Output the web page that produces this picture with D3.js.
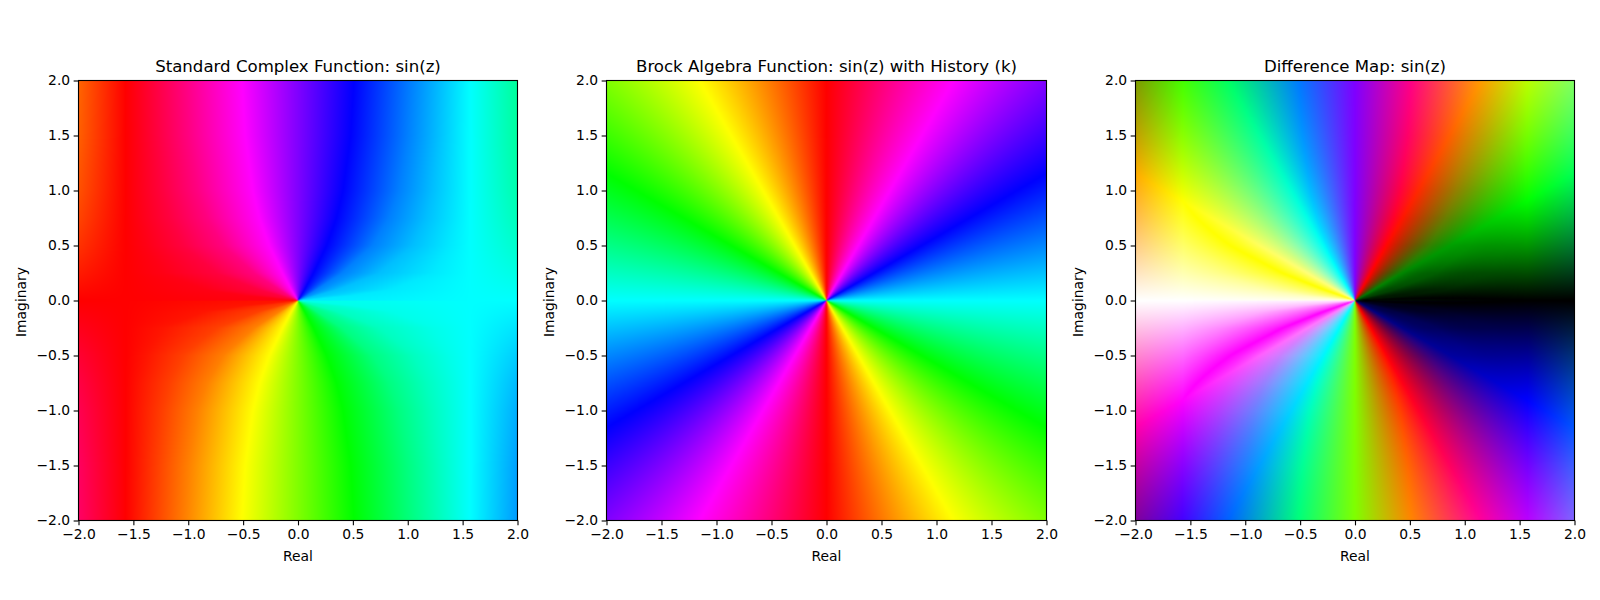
<!DOCTYPE html>
<head>
  <meta charset="utf-8">
  <script src="https://d3js.org/d3.v7.min.js"></script>
  <style>
    body { margin:0; background:#fff; }
    svg { display:block; }
    text { font-family:"DejaVu Sans"; fill:#000; }
  </style>
</head>
<body>
  <svg width="1600" height="600"></svg>
  <script>
    var titles = ['Standard Complex Function: sin(z)', 'Brock Algebra Function: sin(z) with History (k)', 'Difference Map: sin(z)'];
    var tickValues = [-2, -1.5, -1, -0.5, 0, 0.5, 1, 1.5, 2];

    // left panel: how far from x=0 each hue contour sits, per row |y|
    var rowY = [0, 0.05, 0.1, 0.25, 0.5, 0.75, 1, 1.5, 2];
    var reach5 = [0, 0.52, 0.85, 1.23, 1.38, 1.44, 1.46, 1.47, 1.48];
    var reach15 = [0, 0.18, 0.36, 0.74, 1.05, 1.17, 1.23, 1.28, 1.30];
    var reach30 = [0, 0.09, 0.17, 0.40, 0.68, 0.83, 0.92, 1.00, 1.03];
    var reach60 = [0, 0.03, 0.06, 0.14, 0.26, 0.35, 0.41, 0.48, 0.51];
    // hue offset at the left and right edges of the panel (x = -2, 2), per row
    var edgeHue = [0, 1.3, 2.6, 6.4, 11.9, 16.2, 19.2, 22.5, 23.8];
    var redX = -1.57;
    var cyanX = 1.57;

    // middle panel: hue along rays from the origin (degrees ccw from +x)
    var rayAngle = [0, 30, 60, 90, 120, 150, 180, 210, 240, 270, 300, 330, 360];
    var rayHue = [180, 240, 300, 360, 420, 480, 540, 600, 660, 720, 780, 840, 900];

    var plotY = [80.5, 520.5];
    var plotX = [[78.5, 517.5], [606.5, 1046.5], [1135.5, 1574.5]];
    var fontSize = 13.89;
    var tickLen = 4.86;

    var svg = d3.select('svg');
    var format = d => d3.format('.1f')(d).replace('-', '\u2212');

    var contours = [reach5, reach15, reach30, reach60].map(r => d3.scaleLinear().domain(rowY).range(r));
    var edge = d3.scaleLinear().domain(rowY).range(edgeHue);
    var ray = d3.scaleLinear().domain(rayAngle).range(rayHue);

    // one hue scale for a row of the left panel
    function rowScale(ay) {
      var r = contours.map(c => c(ay));
      return d3.scaleLinear()
        .domain([-2, redX, -r[0], -r[1], -r[2], -r[3], 0, r[3], r[2], r[1], r[0], cyanX, 2])
        .range([360 + edge(ay), 360, 355, 345, 330, 300, 270, 240, 210, 195, 185, 180, 180 - edge(ay)]);
    }

    function rgbOf(hue) {
      return d3.hsl(((hue % 360) + 360) % 360, 1, 0.5).rgb();
    }

    function fillStandard(buf, w, h, x, y) {
      for (var j = 0; j < h; j++) {
        var yv = y.invert(j + 0.5);
        var scale = rowScale(Math.abs(yv));
        for (var i = 0; i < w; i++) {
          var hue = scale(x.invert(i + 0.5));
          var c = rgbOf(yv >= 0 ? hue : 360 - hue);
          var p = (j * w + i) * 4;
          buf[p] = c.r; buf[p + 1] = c.g; buf[p + 2] = c.b; buf[p + 3] = 255;
        }
      }
    }

    function fillBrock(buf, w, h, x, y) {
      for (var j = 0; j < h; j++) {
        var yv = y.invert(j + 0.5);
        for (var i = 0; i < w; i++) {
          var deg = Math.atan2(yv, x.invert(i + 0.5)) * 180 / Math.PI;
          var c = rgbOf(ray(deg < 0 ? deg + 360 : deg));
          var p = (j * w + i) * 4;
          buf[p] = c.r; buf[p + 1] = c.g; buf[p + 2] = c.b; buf[p + 3] = 255;
        }
      }
    }

    // the map is by definition the per-channel |left - middle|, so it reuses the two tables
    function fillDiff(buf, w, h, x, y) {
      var a = new Uint8ClampedArray(buf.length);
      var b = new Uint8ClampedArray(buf.length);
      fillStandard(a, w, h, x, y);
      fillBrock(b, w, h, x, y);
      for (var p = 0; p < buf.length; p += 4) {
        buf[p] = Math.abs(a[p] - b[p]);
        buf[p + 1] = Math.abs(a[p + 1] - b[p + 1]);
        buf[p + 2] = Math.abs(a[p + 2] - b[p + 2]);
        buf[p + 3] = 255;
      }
    }

    [fillStandard, fillBrock, fillDiff].forEach((fill, k) => {
      var xScale = d3.scaleLinear().domain([-2, 2]).range(plotX[k]);
      var yScale = d3.scaleLinear().domain([-2, 2]).range([plotY[1], plotY[0]]);
      var w = Math.round(plotX[k][1] - plotX[k][0]);
      var h = Math.round(plotY[1] - plotY[0]);

      // pixels are addressed from the image corner
      var xPix = d3.scaleLinear().domain([-2, 2]).range([0, w]);
      var yPix = d3.scaleLinear().domain([-2, 2]).range([h, 0]);
      var canvas = document.createElement('canvas');
      canvas.width = w;
      canvas.height = h;
      var ctx = canvas.getContext('2d');
      var img = ctx.createImageData(w, h);
      fill(img.data, w, h, xPix, yPix);
      ctx.putImageData(img, 0, 0);

      var g = svg.append('g');
      g.append('image')
        .attr('x', plotX[k][0])
        .attr('y', plotY[0])
        .attr('width', w)
        .attr('height', h)
        .attr('href', canvas.toDataURL());

      var xAxis = d3.axisBottom(xScale).tickValues(tickValues).tickFormat(format).tickSize(tickLen).tickPadding(3.5);
      var yAxis = d3.axisLeft(yScale).tickValues(tickValues).tickFormat(format).tickSize(tickLen).tickPadding(3.5);

      g.append('g').attr('transform', 'translate(' + [0, plotY[1]] + ')').call(xAxis);
      g.append('g').attr('transform', 'translate(' + [plotX[k][0], 0] + ')').call(yAxis);
      g.selectAll('.domain').remove();
      g.selectAll('.tick line').attr('stroke', '#000').attr('stroke-width', 1.11);
      g.selectAll('.tick text').style('font-size', fontSize + 'px').style('font-family', '"DejaVu Sans"').attr('fill', '#000');

      g.append('rect')
        .attr('x', plotX[k][0])
        .attr('y', plotY[0])
        .attr('width', plotX[k][1] - plotX[k][0])
        .attr('height', plotY[1] - plotY[0])
        .attr('fill', 'none')
        .attr('stroke', '#000')
        .attr('stroke-width', 1.11);

      var cx = (plotX[k][0] + plotX[k][1]) / 2;
      g.append('text')
        .attr('x', cx)
        .attr('y', plotY[0] - 8.3)
        .attr('text-anchor', 'middle')
        .style('font-size', '16.6px')
        .text(titles[k]);
      g.append('text')
        .attr('x', cx)
        .attr('y', 560.5)
        .attr('text-anchor', 'middle')
        .style('font-size', fontSize + 'px')
        .text('Real');
      g.append('text')
        .attr('transform', 'translate(' + [plotX[k][0] - 53, (plotY[0] + plotY[1]) / 2 + 1.5] + ') rotate(-90)')
        .attr('text-anchor', 'middle')
        .style('font-size', fontSize + 'px')
        .text('Imaginary');
    });
  </script>
</body>
